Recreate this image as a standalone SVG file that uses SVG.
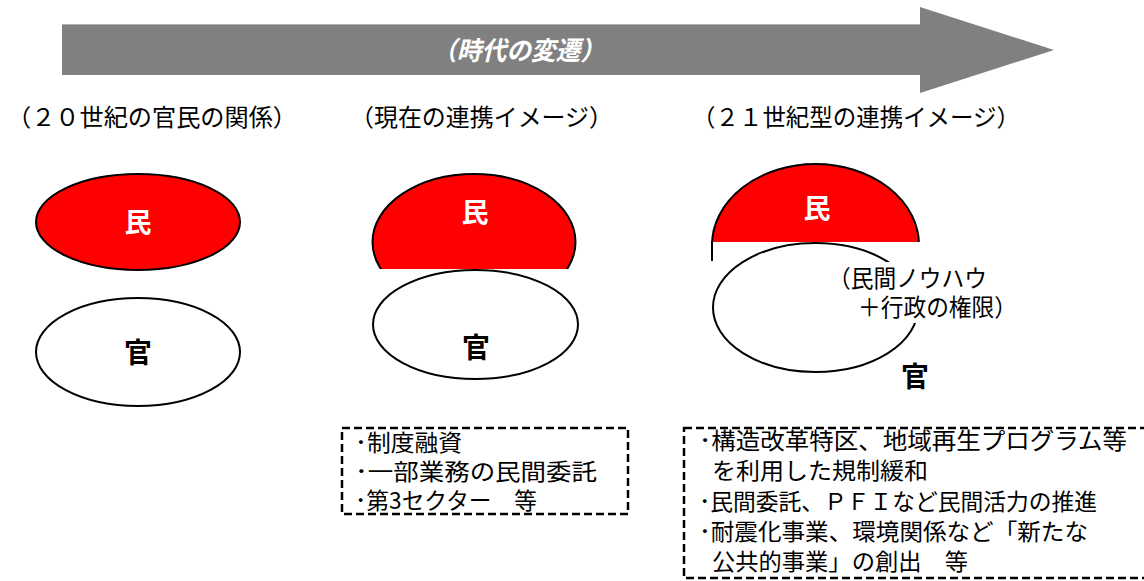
<svg xmlns="http://www.w3.org/2000/svg" width="1144" height="581" viewBox="0 0 1144 581">
<style>
text{font-family:"Noto Sans CJK JP","Noto Sans",sans-serif;}
.hdr{font-size:24px;fill:#000;}
.box{font-size:23px;fill:#000;}
.min{font-size:27px;font-weight:bold;fill:#fff;}
.kan{font-size:28px;font-weight:bold;fill:#000;}
.red{fill:#ff0000;stroke:#000;stroke-width:2;}
.wht{fill:#fff;stroke:#000;stroke-width:2;}
.dash{fill:none;stroke:#000;stroke-width:2.5;stroke-dasharray:8 4;}
</style>
<rect width="1144" height="581" fill="#fff"/>
<g id="era-arrow">
<polygon points="62,24 920,24 920,7 1054,50 920,93 920,75 62,75" fill="#808080"/>
<line x1="62" y1="24.5" x2="920" y2="24.5" stroke="#b0b0b0" stroke-width="1"/>
<text x="432" y="60" font-size="26" font-weight="bold" font-style="italic" fill="#fff" textLength="173" lengthAdjust="spacingAndGlyphs">（時代の変遷）</text>
</g>
<g id="headers">
<text class="hdr" x="7" y="126" textLength="290" lengthAdjust="spacingAndGlyphs">（２０世紀の官民の関係）</text>
<text class="hdr" x="350" y="126" textLength="263" lengthAdjust="spacingAndGlyphs">（現在の連携イメージ）</text>
<text class="hdr" x="692" y="126" textLength="328" lengthAdjust="spacingAndGlyphs">（２１世紀型の連携イメージ）</text>
</g>
<g id="c20-min">
<ellipse class="red" cx="138" cy="222" rx="102" ry="48"/>
<text class="min" x="138" y="232" text-anchor="middle">民</text>
</g>
<g id="c20-kan">
<ellipse class="wht" cx="138" cy="352" rx="102" ry="54"/>
<text class="kan" x="138" y="363" text-anchor="middle">官</text>
</g>
<g id="now-min">
<ellipse class="red" cx="474" cy="242" rx="101.5" ry="68"/>
<rect x="368" y="269" width="214" height="50" fill="#fff"/>
<text class="min" x="475" y="222" text-anchor="middle">民</text>
</g>
<g id="now-kan">
<ellipse class="wht" cx="475.5" cy="324.5" rx="102.5" ry="54.5"/>
<text class="kan" x="476" y="358" text-anchor="middle">官</text>
</g>
<g id="c21-min">
<ellipse class="red" cx="815.5" cy="245" rx="103.5" ry="81"/>
<rect x="710" y="242" width="215" height="90" fill="#fff"/>
<line x1="712" y1="241" x2="712" y2="261" stroke="#000" stroke-width="2"/>
<text class="min" x="817" y="218" text-anchor="middle">民</text>
</g>
<g id="c21-kan">
<ellipse class="wht" cx="815.5" cy="307.5" rx="102.5" ry="64.5"/>
<rect x="826" y="262" width="196" height="61" fill="#fff"/>
<text class="hdr" x="828" y="287" textLength="159" lengthAdjust="spacingAndGlyphs">（民間ノウハウ</text>
<text class="hdr" x="858" y="316" textLength="159" lengthAdjust="spacingAndGlyphs">＋行政の権限）</text>
<text class="kan" x="915" y="387" text-anchor="middle">官</text>
</g>
<g id="now-box">
<rect class="dash" x="342" y="428" width="286" height="86"/>
<text class="box" x="355" y="451" textLength="107" lengthAdjust="spacingAndGlyphs">･制度融資</text>
<text class="box" x="355" y="480" textLength="242" lengthAdjust="spacingAndGlyphs">･一部業務の民間委託</text>
<text class="box" x="355" y="509" textLength="182" lengthAdjust="spacingAndGlyphs">･第3セクター　等</text>
</g>
<g id="c21-box">
<rect class="dash" x="684" y="428" width="470" height="150"/>
<text class="box" x="699" y="449" textLength="428" lengthAdjust="spacingAndGlyphs">･構造改革特区、地域再生プログラム等</text>
<text class="box" x="712" y="479" textLength="216" lengthAdjust="spacingAndGlyphs">を利用した規制緩和</text>
<text class="box" x="699" y="510" textLength="398" lengthAdjust="spacingAndGlyphs">･民間委託、ＰＦＩなど民間活力の推進</text>
<text class="box" x="699" y="540" textLength="389" lengthAdjust="spacingAndGlyphs">･耐震化事業、環境関係など「新たな</text>
<text class="box" x="712" y="570" textLength="256" lengthAdjust="spacingAndGlyphs">公共的事業」の創出　等</text>
</g>
<g id="connectors"></g>
</svg>
